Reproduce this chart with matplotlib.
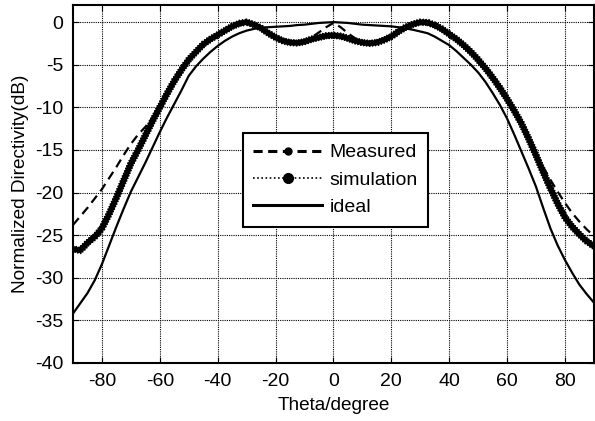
import matplotlib
matplotlib.use("Agg")
import matplotlib.pyplot as plt
from matplotlib.lines import Line2D
import matplotlib.patheffects as pe

plt.rcParams['font.family'] = ['Liberation Sans', 'DejaVu Sans']
plt.rcParams['axes.unicode_minus'] = False

theta = [-90, -87.5, -85, -82.5, -80, -77.5, -75, -72.5, -70, -67.5, -65, -62.5,
         -60, -57.5, -55, -52.5, -50, -47.5, -45, -42.5, -40, -37.5, -35, -32.5,
         -30, -27.5, -25, -22.5, -20, -17.5, -15, -12.5, -10, -7.5, -5, -2.5,
         0, 2.5, 5, 7.5, 10, 12.5, 15, 17.5, 20, 22.5, 25, 27.5, 30, 32.5, 35,
         37.5, 40, 42.5, 45, 47.5, 50, 52.5, 55, 57.5, 60, 62.5, 65, 67.5, 70,
         72.5, 75, 77.5, 80, 82.5, 85, 87.5, 90]

measured = [-23.8, -22.8, -21.8, -20.7, -19.6, -18.3, -17.0, -15.6, -14.3,
            -13.2, -12.3, -11.2, -10.0, -8.4, -6.9, -5.6, -4.4, -3.5, -2.6,
            -2.0, -1.5, -1.0, -0.5, -0.15, 0.0, -0.3, -0.7, -1.3, -1.8, -2.2,
            -2.4, -2.45, -2.3, -1.8, -1.2, -0.6, -0.1, -0.6, -1.3, -1.9, -2.4,
            -2.5, -2.4, -2.1, -1.7, -1.1, -0.6, -0.25, 0.0, -0.05, -0.35, -0.8,
            -1.4, -2.0, -2.7, -3.5, -4.4, -5.4, -6.5, -7.7, -9.0, -10.4, -11.9,
            -13.6, -15.4, -17.0, -18.5, -19.9, -21.2, -22.4, -23.4, -24.3,
            -25.1]

simulation = [-26.6, -26.8, -25.9, -25.2, -24.2, -22.5, -20.6, -18.6, -16.6,
              -15.0, -13.3, -11.6, -10.0, -8.4, -6.9, -5.6, -4.4, -3.5, -2.6,
              -2.0, -1.5, -1.0, -0.5, -0.15, 0.0, -0.3, -0.7, -1.3, -1.8, -2.2,
              -2.4, -2.45, -2.3, -2.0, -1.8, -1.6, -1.55, -1.65, -1.9, -2.2,
              -2.4, -2.5, -2.4, -2.1, -1.7, -1.1, -0.6, -0.25, 0.0, -0.05,
              -0.35, -0.8, -1.4, -2.0, -2.7, -3.5, -4.4, -5.4, -6.5, -7.7, -9.0,
              -10.4, -11.9, -13.7, -15.6, -17.6, -19.5, -21.3, -22.9, -24.0,
              -24.9, -25.7, -26.3]

ideal = [-34.2, -33.0, -31.8, -30.3, -28.4, -26.2, -24.0, -21.9, -19.9, -18.2,
         -16.5, -14.7, -12.9, -11.2, -9.6, -8.0, -6.3, -5.2, -4.3, -3.5, -2.8,
         -2.2, -1.7, -1.3, -1.0, -0.8, -0.65, -0.6, -0.55, -0.5, -0.45, -0.35,
         -0.3, -0.2, -0.1, -0.05, 0.0, -0.05, -0.1, -0.2, -0.3, -0.35, -0.4,
         -0.45, -0.5, -0.6, -0.75, -0.9, -1.1, -1.3, -1.7, -2.2, -2.7, -3.4,
         -4.2, -5.0, -5.9, -7.0, -8.3, -9.7, -11.3, -13.2, -15.2, -17.2, -19.3,
         -21.8, -24.2, -26.2, -27.9, -29.4, -30.8, -31.9, -32.9]

labels = ['Measured', 'simulation', 'ideal']
xticks = [-80, -60, -40, -20, 0, 20, 40, 60, 80]
yticks = [0, -5, -10, -15, -20, -25, -30, -35, -40]

fig = plt.figure(figsize=(5.95, 4.21), dpi=100)
ax = fig.add_axes([0.1227, 0.1378, 0.8753, 0.8502])

ax.plot(theta, measured, color='black', linestyle=(0, (4, 2.5)), linewidth=1.6,
        zorder=3)
ticks_fx = [pe.TickedStroke(spacing=2.0, angle=a, length=1.1, linewidth=1.1)
            for a in (60, 120, -60, -120)]
ax.plot(theta, simulation, color='black', linestyle='-', linewidth=3.8,
        path_effects=[pe.Normal()] + ticks_fx, zorder=3)
ax.plot(theta, ideal, color='black', linestyle='-', linewidth=1.6, zorder=3)

ax.set_xlim(-90, 90)
ax.set_ylim(-40, 2)
ax.set_xticks(xticks)
ax.set_yticks(yticks)
ax.grid(True, color='black', linestyle=(0, (1, 1)), linewidth=0.8)
ax.tick_params(direction='in', top=True, right=True, labelsize=14, length=4)
ax.tick_params(axis='y', pad=7)
ax.tick_params(axis='x', pad=7)
for s in ax.spines.values():
    s.set_linewidth(1.5)

ax.set_xlabel('Theta/degree', fontsize=13.7, labelpad=5)
ax.set_ylabel('Normalized Directivity(dB)', fontsize=13.7, labelpad=4)

handles = [
    Line2D([0, 0.5, 1], [0, 0, 0], color='black', linestyle=(0, (3, 1.8)),
           linewidth=2.2, marker='o', markersize=5, markevery=[1]),
    Line2D([0, 0.5, 1], [0, 0, 0], color='black', linestyle=(0, (1, 1.5)),
           linewidth=1.2, marker='o', markersize=7, markevery=[1]),
    Line2D([0, 0.5, 1], [0, 0, 0], color='black', linestyle='-', linewidth=2.2),
]
leg = ax.legend(handles, labels, loc='upper left', bbox_to_anchor=(0.326, 0.642),
                fontsize=14, frameon=True, fancybox=False, framealpha=1,
                edgecolor='black', handlelength=3.5, borderpad=0.55,
                labelspacing=0.5, handletextpad=0.4, borderaxespad=0)
leg.get_frame().set_linewidth(1.5)
leg.set_zorder(5)

fig.savefig('out.png', dpi=100)
